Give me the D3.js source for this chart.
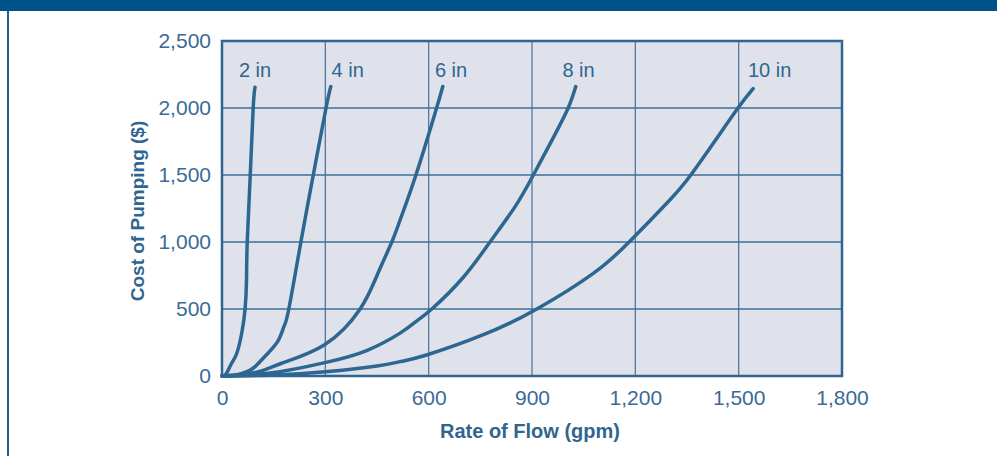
<!DOCTYPE html>
<html>
<head>
<meta charset="utf-8">
<script src="https://cdn.jsdelivr.net/npm/d3@7/dist/d3.min.js"></script>
<style>
  body { margin: 0; background: #fff; }
  svg { display: block; }
  .tick text { font-family: "Liberation Sans", Arial, sans-serif; font-size: 21px; fill: #3b6a94; }
</style>
</head>
<body>
<svg id="board" width="997" height="456"></svg>
<script>
// flow (gpm) / cost ($)
var sizes = ["2 in", "4 in", "6 in", "8 in", "10 in"];
var flow2 = [0, 12, 28, 43, 58, 67, 71, 73.2, 82, 90.5, 95.8];
var cost2 = [0, 15, 95, 170, 330, 500, 700, 1000, 1500, 2000, 2155];
var flow4 = [0, 40, 72, 96, 134, 164, 180, 194, 229, 265, 302, 316];
var cost4 = [0, 5, 32, 70, 172, 268, 370, 500, 1000, 1500, 2000, 2160];
var flow6 = [0, 100, 173, 299, 401, 450, 493, 517, 563, 623, 641];
var cost6 = [0, 28, 95, 235, 500, 750, 1000, 1164, 1500, 2000, 2160];
var flow8 = [0, 140, 299, 420, 517, 560, 609, 700, 778, 850, 904, 960, 1005, 1027];
var cost8 = [0, 22, 100, 190, 320, 400, 500, 735, 1000, 1260, 1500, 1770, 2000, 2160];
var flow10 = [0, 150, 300, 450, 517, 594, 759, 914, 1078, 1182, 1300, 1361, 1430, 1498, 1542];
var cost10 = [0, 8, 32, 75, 107, 157, 308, 500, 766, 1000, 1313, 1500, 1750, 2000, 2144];
var labelFlow = [96, 365, 665, 1035, 1590];
var xTicks = [0, 300, 600, 900, 1200, 1500, 1800];
var yTicks = [0, 500, 1000, 1500, 2000, 2500];

var flows = [flow2, flow4, flow6, flow8, flow10];
var costs = [cost2, cost4, cost6, cost8, cost10];

var blue = "#2e6692";
var board = d3.select("#board");

// header strip and left rule
board.append("rect").attr("x", 0).attr("y", 0).attr("width", 997).attr("height", 11).attr("fill", "#00528a");
board.append("rect").attr("x", 7).attr("y", 11).attr("width", 2).attr("height", 445).attr("fill", "#1f5d8f");

var x = d3.scaleLinear().domain([0, 1800]).range([222, 842]);
var y = d3.scaleLinear().domain([0, 2500]).range([376, 41]);

board.append("rect")
  .attr("x", x(0)).attr("y", y(2500))
  .attr("width", x(1800) - x(0)).attr("height", y(0) - y(2500))
  .attr("fill", "#dfe2ea");

// grid
board.append("g").selectAll("line").data(xTicks.slice(1, -1)).join("line")
  .attr("x1", d => x(d)).attr("x2", d => x(d))
  .attr("y1", y(0)).attr("y2", y(2500))
  .attr("stroke", "#5079a0").attr("stroke-width", 1.3);
board.append("g").selectAll("line").data(yTicks.slice(1, -1)).join("line")
  .attr("x1", x(0)).attr("x2", x(1800))
  .attr("y1", d => y(d)).attr("y2", d => y(d))
  .attr("stroke", "#3e6f98").attr("stroke-width", 1.3);

// axes (labels only)
var fmt = d3.format(",");
var xAxis = board.append("g").attr("transform", "translate(0," + y(0) + ")")
  .call(d3.axisBottom(x).tickValues(xTicks).tickFormat(fmt).tickSize(0).tickPadding(14));
var yAxis = board.append("g").attr("transform", "translate(" + x(0) + ",0)")
  .call(d3.axisLeft(y).tickValues(yTicks).tickFormat(fmt).tickSize(0).tickPadding(11));
xAxis.select(".domain").remove();
yAxis.select(".domain").remove();

// frame
board.append("rect")
  .attr("x", x(0)).attr("y", y(2500))
  .attr("width", x(1800) - x(0)).attr("height", y(0) - y(2500))
  .attr("fill", "none").attr("stroke", "#2f6590").attr("stroke-width", 2.5);

// curves
var line = d3.line()
  .x(d => x(d[0])).y(d => y(d[1]))
  .curve(d3.curveNatural);

for (var i = 0; i < sizes.length; i++) {
  var pts = flows[i].map(function(f, j) { return [f, costs[i][j]]; });
  board.append("path").datum(pts)
    .attr("d", line)
    .attr("fill", "none")
    .attr("stroke", blue)
    .attr("stroke-width", 3.5)
    .attr("stroke-linecap", "round");
  board.append("text")
    .attr("x", x(labelFlow[i])).attr("y", 77)
    .attr("text-anchor", "middle")
    .attr("font-family", "Liberation Sans, Arial, sans-serif")
    .attr("font-size", 20)
    .attr("fill", blue)
    .text(sizes[i]);
}

// axis titles
board.append("text")
  .attr("x", 530).attr("y", 438)
  .attr("text-anchor", "middle")
  .attr("font-family", "Liberation Sans, Arial, sans-serif")
  .attr("font-weight", "bold").attr("font-size", 20)
  .attr("fill", "#2f6590")
  .text("Rate of Flow (gpm)");
board.append("text")
  .attr("transform", "translate(144,211) rotate(-90)")
  .attr("text-anchor", "middle")
  .attr("font-family", "Liberation Sans, Arial, sans-serif")
  .attr("font-weight", "bold").attr("font-size", 19)
  .attr("fill", "#2f6590")
  .text("Cost of Pumping ($)");
</script>
</body>
</html>
